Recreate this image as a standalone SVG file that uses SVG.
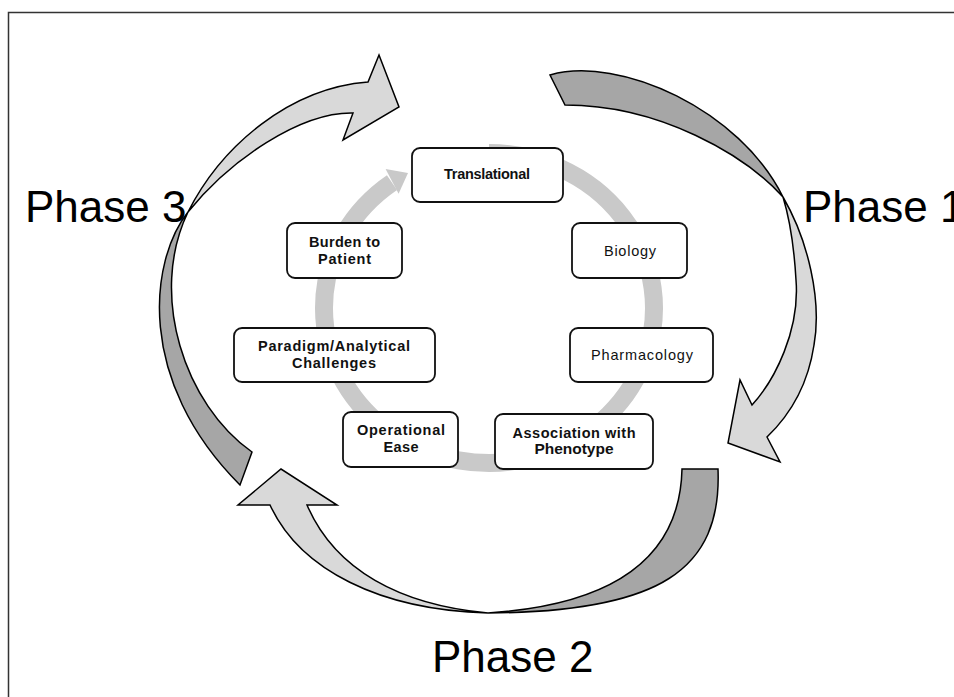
<svg xmlns="http://www.w3.org/2000/svg" width="954" height="697" viewBox="0 0 954 697">
<style>
.box{fill:#fff;stroke:#111;stroke-width:1.8}
.t{font-family:"Liberation Sans",Arial,sans-serif;font-size:14.5px;fill:#111;text-anchor:middle}
.b{font-weight:bold}
.ph{font-family:"Liberation Sans",Arial,sans-serif;font-size:44px;fill:#000}
.lt{fill:#d9d9d9;stroke:#000;stroke-width:1.5;stroke-linejoin:miter}
.dk{fill:#a6a6a6;stroke:#000;stroke-width:1.5}
</style>
<rect width="954" height="697" fill="#fff"/>
<path d="M8.5 697 V12.5 H954" fill="none" stroke="#333" stroke-width="1.5"/>
<g id="connectors">
  <g id="cycle-ring">
    <path d="M489 153 A165 155 0 1 1 392 182.6" fill="none" stroke="#c9c9c9" stroke-width="18"/>
    <polygon points="408,173 385.6,169 398.6,193.8" fill="#c9c9c9"/>
  </g>
  <g id="phase3-arrow">
    <path class="dk" d="M188 212 C150 260 135 380 240 485 L252 452 C185 405 148 295 188 212 Z"/>
    <path class="lt" d="M188 212 C222 145 290 88 368 82 L379 55 L399 107 L343 140 L353 113 C300 112 230 160 188 212 Z"/>
  </g>
  <g id="phase1-arrow">
    <path class="dk" d="M550 75 C620 55 740 110 783 197 C745 155 660 105 565 105 Z"/>
    <path class="lt" d="M783 197 C808 240 822 300 814 345 C808 385 790 415 767 437 L780 462 L728 443 L740 380 L752 405 C775 380 800 330 796 280 C794 245 790 220 783 197 Z"/>
  </g>
  <g id="phase2-arrow">
    <path class="dk" d="M682 469 L718 469 C722 570 660 612 488 613 C610 605 680 560 682 469 Z"/>
    <path class="lt" d="M488 613 C380 610 300 570 270 505 L238 505 L281 469 L337 505 L307 505 C335 570 400 605 488 613 Z"/>
  </g>
</g>
<g id="labels">
  <text class="ph" x="25" y="222">Phase 3</text>
  <text class="ph" x="803" y="222">Phase 1</text>
  <text class="ph" x="432" y="672">Phase 2</text>
</g>
<g id="node-translational">
  <rect class="box" x="412" y="148" width="151" height="54" rx="8"/>
  <text class="t b" x="487" y="179" textLength="86">Translational</text>
</g>
<g id="node-biology">
  <rect class="box" x="572" y="223" width="115" height="55" rx="8"/>
  <text class="t" x="630" y="256" textLength="52">Biology</text>
</g>
<g id="node-pharmacology">
  <rect class="box" x="570" y="328" width="143" height="54" rx="8"/>
  <text class="t" x="642" y="360" textLength="102">Pharmacology</text>
</g>
<g id="node-association">
  <rect class="box" x="495" y="414" width="158" height="55" rx="8"/>
  <text class="t b" x="574" y="438" textLength="123">Association with</text>
  <text class="t b" x="574" y="454" style="font-size:15.5px" textLength="79">Phenotype</text>
</g>
<g id="node-operational">
  <rect class="box" x="343" y="412" width="115" height="55" rx="8"/>
  <text class="t b" x="401" y="435" textLength="88">Operational</text>
  <text class="t b" x="401" y="452" textLength="35">Ease</text>
</g>
<g id="node-paradigm">
  <rect class="box" x="234" y="328" width="201" height="54" rx="8"/>
  <text class="t b" x="334" y="351" textLength="152">Paradigm/Analytical</text>
  <text class="t b" x="334" y="368" textLength="84">Challenges</text>
</g>
<g id="node-burden">
  <rect class="box" x="287" y="223" width="115" height="55" rx="8"/>
  <text class="t b" x="344.5" y="247" textLength="71">Burden to</text>
  <text class="t b" x="344.5" y="264" textLength="53">Patient</text>
</g>
</svg>
